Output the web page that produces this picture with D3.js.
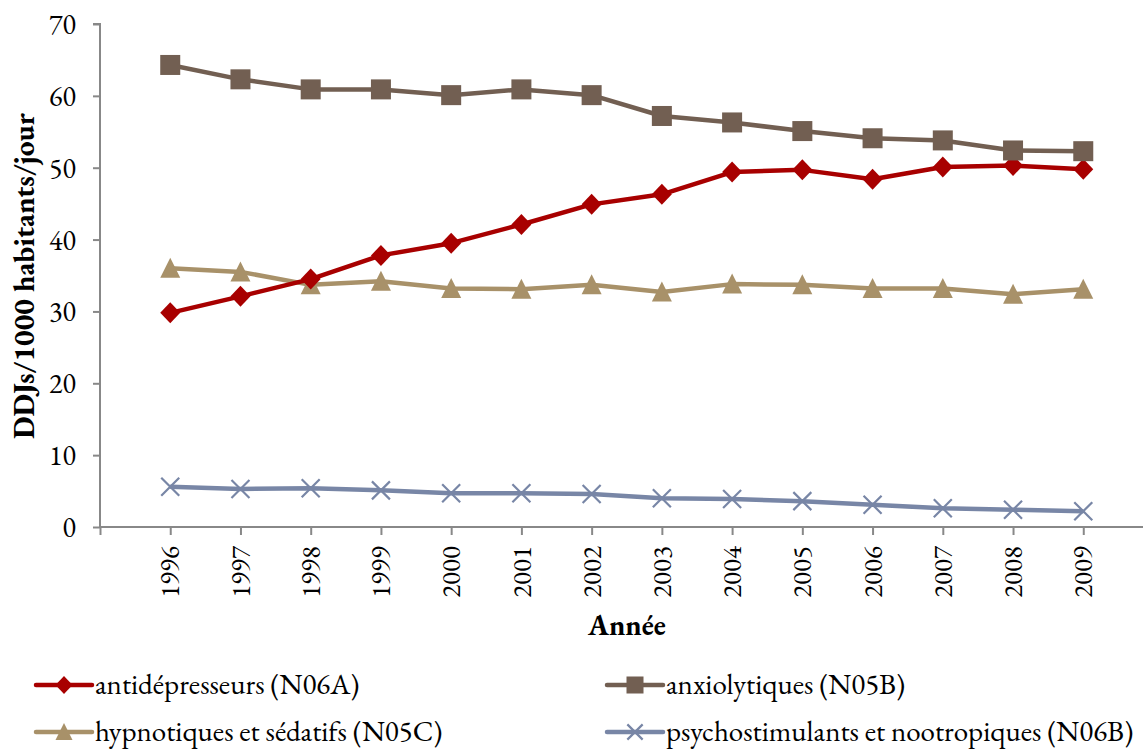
<!DOCTYPE html>
<html><head><meta charset="utf-8">
<script src="https://cdn.jsdelivr.net/npm/d3@7"></script>
<style>body{margin:0;background:#fff}svg{display:block}</style>
</head><body><svg id="c" width="1143" height="751"></svg>
<script>
const years = [1996,1997,1998,1999,2000,2001,2002,2003,2004,2005,2006,2007,2008,2009];
const antidepresseurs = [29.8,32.1,34.5,37.8,39.5,42.1,44.9,46.3,49.4,49.7,48.4,50.1,50.3,49.8];
const anxiolytiques = [64.3,62.3,60.9,60.9,60.1,60.9,60.1,57.2,56.3,55.1,54.1,53.8,52.4,52.3];
const hypnotiques = [36.0,35.5,33.7,34.2,33.2,33.1,33.7,32.7,33.8,33.7,33.2,33.2,32.4,33.1];
const psychostimulants = [5.6,5.3,5.4,5.1,4.7,4.7,4.6,4.0,3.9,3.6,3.1,2.6,2.4,2.2];
const yTicks = [0,10,20,30,40,50,60,70];
const seriesNames = ["antidépresseurs (N06A)","anxiolytiques (N05B)","hypnotiques et sédatifs (N05C)","psychostimulants et nootropiques (N06B)"];

const FONT = "EB Garamond, Liberation Serif, serif";
const series = [
  {name:seriesNames[0], values:antidepresseurs, color:"#A80000", shape:"diamond"},
  {name:seriesNames[1], values:anxiolytiques, color:"#725F52", shape:"square"},
  {name:seriesNames[2], values:hypnotiques, color:"#A89169", shape:"triangle"},
  {name:seriesNames[3], values:psychostimulants, color:"#7886A6", shape:"x"}
];

const svg = d3.select("#c");
const axisColor = "#888888";
const x = d3.scaleLinear().domain([1995, 2010]).range([100, 1153.5]);
const y = d3.scaleLinear().domain([0, 70]).range([527, 24]);

// y axis
const ya = svg.append("g").attr("transform","translate(100,0)")
  .call(d3.axisLeft(y).tickValues(yTicks).tickSize(7).tickPadding(17).tickFormat(d3.format("d")));
ya.select(".domain").attr("stroke",axisColor).attr("stroke-width",2).attr("d","M-7,24H0V527");
ya.selectAll(".tick line").attr("stroke",axisColor).attr("stroke-width",2);
ya.selectAll(".tick text").attr("font-size",28).attr("fill","#000").attr("font-family",FONT).attr("dy","0.34em");

// x axis
const xa = svg.append("g").attr("transform","translate(0,527)")
  .call(d3.axisBottom(x).tickValues([1995].concat(years)).tickSize(8).tickFormat(d=> d===1995?"":String(d)));
xa.select(".domain").attr("stroke",axisColor).attr("stroke-width",2).attr("d","M100,0H1143");
xa.selectAll(".tick line").attr("stroke",axisColor).attr("stroke-width",2);
xa.selectAll(".tick text").attr("font-size",27).attr("fill","#000").attr("font-family",FONT)
  .attr("transform","rotate(-90)").attr("text-anchor","end").attr("x",-19).attr("y",0).attr("dy","0.32em");

// axis titles
svg.append("text").attr("transform","translate(34,276) rotate(-90)").attr("text-anchor","middle")
  .attr("font-family",FONT).attr("font-size",29.5).attr("font-weight","bold").text("DDJs/1000 habitants/jour");
svg.append("text").attr("x",627).attr("y",635).attr("text-anchor","middle")
  .attr("font-family",FONT).attr("font-size",29).attr("font-weight","bold").text("Année");

function marker(g, shape, color, s){
  s = s || 1;
  if(shape==="diamond") g.append("path").attr("d",`M0,${-10.5*s}L${10*s},0L0,${10.5*s}L${-10*s},0Z`).attr("fill",color);
  else if(shape==="square") g.append("rect").attr("x",-10*s).attr("y",-10*s).attr("width",20*s).attr("height",20*s).attr("fill",color);
  else if(shape==="triangle") g.append("path").attr("d",`M0,${-10.5*s}L${10*s},${9.5*s}L${-10*s},${9.5*s}Z`).attr("fill",color);
  else g.append("path").attr("d",`M${-9*s},${-9*s}L${9*s},${9*s}M${-9*s},${9*s}L${9*s},${-9*s}`).attr("stroke",color).attr("stroke-width",2.2).attr("fill","none");
}

const line = d3.line().x((d,i)=>x(years[i])).y(d=>y(d));
const order = [3,2,0,1];
order.forEach(k=>{
  const s = series[k];
  svg.append("path").datum(s.values).attr("d",line).attr("fill","none")
    .attr("stroke",s.color).attr("stroke-width",4.5).attr("stroke-linejoin","round");
});
order.forEach(k=>{
  const s = series[k];
  s.values.forEach((v,i)=>{
    const g = svg.append("g").attr("transform",`translate(${x(years[i])},${y(v)})`);
    marker(g, s.shape, s.color);
  });
});

// legend
const legendPos = [[36,685],[607,685],[36,732],[607,732]];
series.forEach((s,i)=>{
  const [lx,ly] = legendPos[i];
  const g = svg.append("g").attr("transform",`translate(${lx},${ly})`);
  g.append("line").attr("x1",0).attr("x2",56).attr("y1",0).attr("y2",0).attr("stroke",s.color).attr("stroke-width",4.5).attr("stroke-linecap","round");
  const m = g.append("g").attr("transform","translate(28,0)");
  marker(m, s.shape, s.color, 0.85);
  g.append("text").attr("x",59).attr("y",0).attr("dy","0.3em").attr("font-family",FONT).attr("font-size",29).text(s.name);
});
</script></body></html>
